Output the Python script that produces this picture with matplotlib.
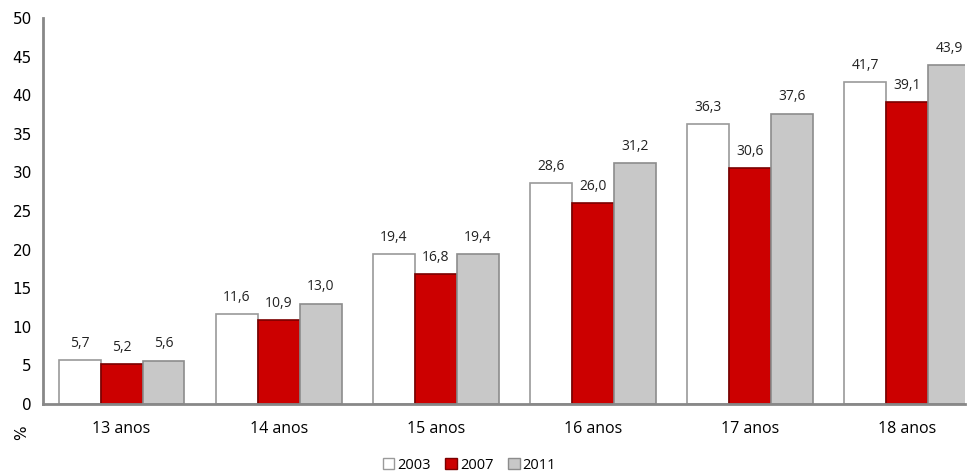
import matplotlib.pyplot as plt
import matplotlib.patches as mpatches
import numpy as np

# Dados do gráfico
categorias = ["13 anos", "14 anos", "15 anos", "16 anos", "17 anos", "18 anos"]
anos = ["2003", "2007", "2011"]
v2003 = [5.7, 11.6, 19.4, 28.6, 36.3, 41.7]
v2007 = [5.2, 10.9, 16.8, 26.0, 30.6, 39.1]
v2011 = [5.6, 13.0, 19.4, 31.2, 37.6, 43.9]

cores = ["#FFFFFF", "#CC0000", "#C8C8C8"]
bordas = ["#9A9A9A", "#7A0000", "#8C8C8C"]

fig = plt.figure(figsize=(9.68, 4.74), dpi=100)
ax = fig.add_axes([0.0444, 0.1477, 0.953, 0.8143])

x = np.arange(len(categorias))
w = 0.267
for i, (vals, c, b) in enumerate(zip([v2003, v2007, v2011], cores, bordas)):
    pos = x + (i - 1) * w
    ax.bar(pos, vals, width=w, color=c, edgecolor=b, linewidth=1.2, label=anos[i], zorder=2)
    for p, v in zip(pos, vals):
        ax.text(p, v + 1.2, f"{v:.1f}".replace(".", ","), ha="center", va="bottom",
                fontsize=10, family="Open Sans", color="#222222")

ax.set_ylim(0, 50)
ax.set_xlim(-0.5, 5.37)
ax.set_yticks(range(0, 51, 5))
ax.set_xticks(x)
ax.set_xticklabels(categorias, fontsize=11.5, family="Open Sans")
ax.tick_params(axis="y", labelsize=11, length=0, pad=8)
ax.tick_params(axis="x", length=0, pad=12)
for s in ["top", "right"]:
    ax.spines[s].set_visible(False)
for s in ["left", "bottom"]:
    ax.spines[s].set_color("#888888")
    ax.spines[s].set_linewidth(2)

fig.text(0.022, 0.088, "%", rotation=90, fontsize=11, ha="center", va="center")

handles = [mpatches.Patch(facecolor=c, edgecolor=b, label=a) for c, b, a in zip(cores, bordas, anos)]
fig.legend(handles=handles, loc="center", bbox_to_anchor=(0.485, 0.018), ncol=3, frameon=False,
           fontsize=10.5, handlelength=0.8, handleheight=0.8, handletextpad=0.2, columnspacing=1.0,
           prop={"family": "Open Sans", "size": 10.5})

fig.savefig("out.png", dpi=100)
